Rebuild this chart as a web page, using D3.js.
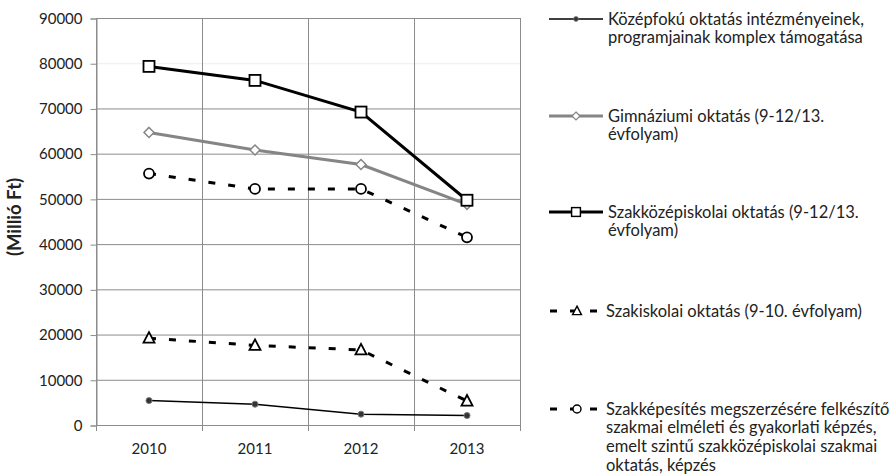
<!DOCTYPE html>
<html>
<head>
<meta charset="utf-8">
<script src="https://cdn.jsdelivr.net/npm/d3@7"></script>
<style>
  body { margin: 0; background: #fff; }
  text { font-family: Lato, "Open Sans", sans-serif; fill: #222; }
</style>
</head>
<body>
<script>
// data (Millió Ft)
const years = ["2010", "2011", "2012", "2013"];
const yTicks = [0, 10000, 20000, 30000, 40000, 50000, 60000, 70000, 80000, 90000];

const kozepfoku = [5400, 4600, 2400, 2100];
const gimnaziumi = [64700, 60800, 57600, 48800];
const szakkozep = [79300, 76200, 69200, 49700];
const szakiskolai = [19200, 17600, 16600, 5300];
const szakkepesites = [55600, 52200, 52200, 41500];

const seriesNames = [
  ["Középfokú oktatás intézményeinek,", "programjainak komplex támogatása"],
  ["Gimnáziumi oktatás (9-12/13.", "évfolyam)"],
  ["Szakközépiskolai oktatás (9-12/13.", "évfolyam)"],
  ["Szakiskolai oktatás (9-10. évfolyam)"],
  ["Szakképesítés megszerzésére felkészítő", "szakmai elméleti és gyakorlati képzés,", "emelt szintű szakközépiskolai szakmai", "oktatás, képzés"]
];

const svgWidth = 894, svgHeight = 476;
const plotLeft = 96, plotRight = 520, plotTop = 18, plotBottom = 425;

// drawing order (square line on top), legend keeps the seriesNames order
const series = [
  { name: 0, values: kozepfoku, color: "#000", width: 1.5, dash: null, marker: "dot" },
  { name: 1, values: gimnaziumi, color: "#858585", width: 3, dash: null, marker: "diamond" },
  { name: 3, values: szakiskolai, color: "#000", width: 3, dash: "7,13", marker: "triangle" },
  { name: 4, values: szakkepesites, color: "#000", width: 3, dash: "7,13", marker: "circle" },
  { name: 2, values: szakkozep, color: "#000", width: 3, dash: null, marker: "square" }
];
const legendY = [19, 116, 212, 311, 409];

const svg = d3.select("body").append("svg")
  .attr("width", svgWidth)
  .attr("height", svgHeight);

const x = d3.scaleBand().domain(years).range([plotLeft, plotRight]);
const y = d3.scaleLinear().domain([0, 90000]).range([plotBottom, plotTop]);

// horizontal gridlines
svg.append("g")
  .selectAll("line")
  .data(yTicks)
  .enter()
  .append("line")
  .attr("x1", plotLeft)
  .attr("x2", plotRight)
  .attr("y1", d => y(d) + 0.5)
  .attr("y2", d => y(d) + 0.5)
  .attr("stroke", d => d === 80000 ? "#eeeeee" : "#8c8c8c")
  .attr("stroke-width", 1);

// vertical gridlines at the category borders
const borders = years.map(d => x(d)).concat([plotRight]);
svg.append("g")
  .selectAll("line")
  .data(borders)
  .enter()
  .append("line")
  .attr("x1", d => Math.round(d) + 0.5)
  .attr("x2", d => Math.round(d) + 0.5)
  .attr("y1", plotTop)
  .attr("y2", plotBottom + 6)
  .attr("stroke", "#8c8c8c");

// y axis
const yAxis = d3.axisLeft(y)
  .tickValues(yTicks)
  .tickFormat(d3.format("d"))
  .tickSize(6)
  .tickPadding(8);

const gy = svg.append("g")
  .attr("transform", `translate(${plotLeft + 0.5},0.5)`)
  .call(yAxis);
gy.select(".domain").attr("stroke", "#8c8c8c");
gy.selectAll(".tick line").attr("stroke", "#8c8c8c");
gy.selectAll("text").style("font-size", "15px").attr("fill", "#222");

// x axis labels
const xAxis = d3.axisBottom(x).tickSize(0).tickPadding(18);
const gx = svg.append("g")
  .attr("transform", `translate(0,${plotBottom})`)
  .call(xAxis);
gx.select(".domain").remove();
gx.selectAll("text").style("font-size", "15px").attr("fill", "#222");

// y axis title
svg.append("text")
  .attr("transform", "translate(21,217) rotate(-90)")
  .attr("text-anchor", "middle")
  .style("font-size", "18.5px")
  .style("font-weight", "bold")
  .text("(Millió Ft)");

const cx = i => x(years[i]) + x.bandwidth() / 2;

function drawMarker(g, type, px, py, color) {
  if (type === "dot") {
    g.append("circle").attr("cx", px).attr("cy", py).attr("r", 3)
      .attr("fill", "#333").attr("stroke", "#777").attr("stroke-width", 1);
  } else if (type === "diamond") {
    g.append("path")
      .attr("d", `M${px},${py - 5}L${px + 5},${py}L${px},${py + 5}L${px - 5},${py}Z`)
      .attr("fill", "#fff").attr("stroke", color).attr("stroke-width", 1.5);
  } else if (type === "square") {
    g.append("rect").attr("x", px - 5.5).attr("y", py - 5.5)
      .attr("width", 11).attr("height", 11)
      .attr("fill", "#fff").attr("stroke", "#000").attr("stroke-width", 1.8);
  } else if (type === "triangle") {
    g.append("path")
      .attr("d", `M${px},${py - 6}L${px + 5.5},${py + 4.5}L${px - 5.5},${py + 4.5}Z`)
      .attr("fill", "#fff").attr("stroke", "#000").attr("stroke-width", 1.8);
  } else if (type === "circle") {
    g.append("circle").attr("cx", px).attr("cy", py).attr("r", 5)
      .attr("fill", "#fff").attr("stroke", "#000").attr("stroke-width", 1.8);
  }
}

const line = d3.line()
  .x((d, i) => cx(i))
  .y(d => y(d));

series.forEach(s => {
  const g = svg.append("g");
  g.append("path")
    .datum(s.values)
    .attr("d", line)
    .attr("fill", "none")
    .attr("stroke", s.color)
    .attr("stroke-width", s.width)
    .attr("stroke-dasharray", s.dash);
  s.values.forEach((v, i) => drawMarker(g, s.marker, cx(i), y(v), s.color));
});

// legend
series.forEach(s => {
  const ly = legendY[s.name];
  const g = svg.append("g");
  if (s.dash) {
    [550, 570, 590].forEach(dx => {
      g.append("line").attr("x1", dx).attr("x2", dx + 7).attr("y1", ly).attr("y2", ly)
        .attr("stroke", s.color).attr("stroke-width", 3);
    });
  } else {
    g.append("line").attr("x1", 549).attr("x2", 603).attr("y1", ly).attr("y2", ly)
      .attr("stroke", s.color).attr("stroke-width", s.width);
  }
  const mx = s.dash ? 577 : 576;
  const small = g.append("g")
    .attr("transform", `translate(${mx},${ly}) scale(0.8) translate(${-mx},${-ly})`);
  drawMarker(small, s.marker, mx, ly, s.color);

  const t = g.append("text")
    .attr("y", ly)
    .style("font-size", "16.5px");
  seriesNames[s.name].forEach((ln, j) => {
    t.append("tspan")
      .attr("x", s.dash ? 606 : 608)
      .attr("dy", j === 0 ? "0.35em" : "1.13em")
      .text(ln);
  });
});
</script>
</body>
</html>
